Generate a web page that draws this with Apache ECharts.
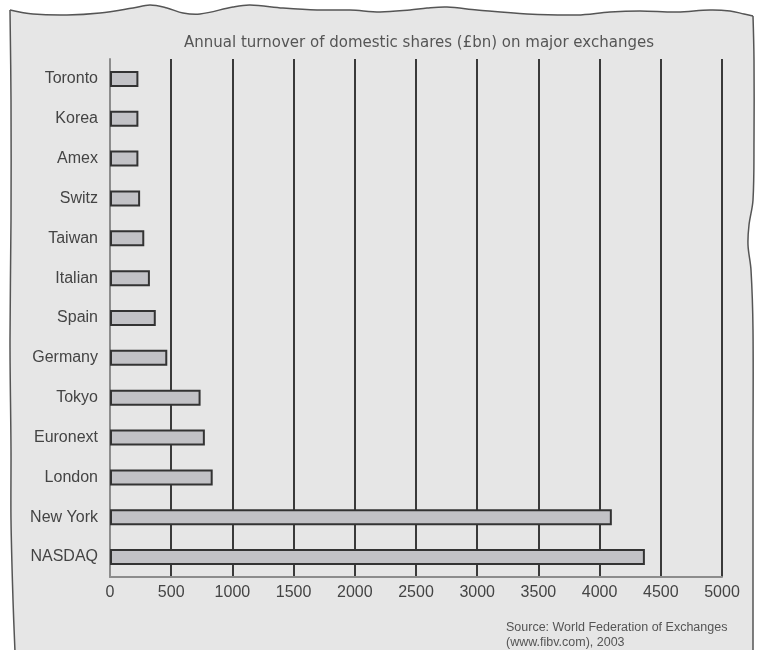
<!DOCTYPE html>
<html><head><meta charset="utf-8">
<script src="https://cdn.jsdelivr.net/npm/echarts@6/dist/echarts.min.js"></script>
<style>html,body{margin:0;padding:0;background:#fff}#c{width:757px;height:650px}</style>
</head><body><div id="c"></div>
<script>
const categories = ["Toronto","Korea","Amex","Switz","Taiwan","Italian","Spain","Germany","Tokyo","Euronext","London","New York","NASDAQ"];
const turnover = [232, 232, 232, 246, 280, 326, 374, 468, 740, 775, 839, 4100, 4370];
const titleText = "Annual turnover of domestic shares (£bn) on major exchanges";
const sourceLines = ["Source: World Federation of Exchanges", "(www.fibv.com), 2003"];
const xMax = 5000, xStep = 500;

const chart = echarts.init(document.getElementById('c'), null, {renderer:'canvas'});
const fontF = "'Liberation Sans', Arial, sans-serif";
const topEdge = [[10,10],[33,14],[67,15],[100,13],[133,8],[150,5],[167,8],[183,13],[200,14],[233,7],[250,5],[283,8],[317,10],[350,10],[380,12],[410,10],[427,8],[447,7],[477,10],[527,14],[577,15],[610,12],[640,11],[677,12],[710,10],[730,11],[744,14],[753,16]];
const rightEdge = [[753,16],[754,60],[754,140],[753,200],[749,225],[748,245],[751,270],[753,330],[753,450],[753,560],[753,652]];
const leftEdge = [[10,10],[11,100],[11,220],[10,340],[11,450],[11,520],[13,600],[15,652]];
const fillPts = topEdge.concat(rightEdge.slice(1)).concat(leftEdge.slice().reverse().slice(0,-1));
chart.setOption({
  animation:false,
  backgroundColor:'#ffffff',
  graphic:[{
    type:'polygon', z:-10, silent:true,
    shape:{points:fillPts},
    style:{fill:'#e6e6e6', stroke:null}
  },{
    type:'polyline', z:-9, silent:true, shape:{points:topEdge, smooth:0.35},
    style:{stroke:'#555', lineWidth:1.5, fill:null}
  },{
    type:'polyline', z:-9, silent:true, shape:{points:rightEdge, smooth:0.35},
    style:{stroke:'#555', lineWidth:1.5, fill:null}
  },{
    type:'polyline', z:-9, silent:true, shape:{points:leftEdge, smooth:0.35},
    style:{stroke:'#555', lineWidth:1.5, fill:null}
  },{
    type:'text', left:506, top:620,
    style:{text:sourceLines.join('\n'), fill:'#555', font:"12.5px "+fontF, lineHeight:15}
  }],
  title:{text:titleText, left:414, top:31, textAlign:'center',
    textStyle:{fontSize:15, fontWeight:'normal', color:'#555', fontFamily:"'DejaVu Sans', sans-serif"}},
  grid:{left:110, right:35, top:59, bottom:73, containLabel:false},
  xAxis:{type:'value', min:0, max:xMax, interval:xStep,
    axisLine:{show:true, lineStyle:{color:'#8c8c8c', width:2}},
    axisTick:{show:false},
    axisLabel:{color:'#444', fontSize:16, fontFamily:fontF, margin:8, formatter:function(v){return String(v);}},
    splitLine:{show:true, lineStyle:{color:'#3a3a3a', width:2}}
  },
  yAxis:{type:'category', data:categories, inverse:true,
    axisLine:{show:true, lineStyle:{color:'#8c8c8c', width:2}},
    axisTick:{show:false},
    axisLabel:{color:'#444', fontSize:16, fontFamily:fontF, margin:12}
  },
  series:[{type:'bar', data:turnover, barWidth:16,
    itemStyle:{color:'#c2c2c6', borderColor:'#333', borderWidth:2}}]
});
</script></body></html>
